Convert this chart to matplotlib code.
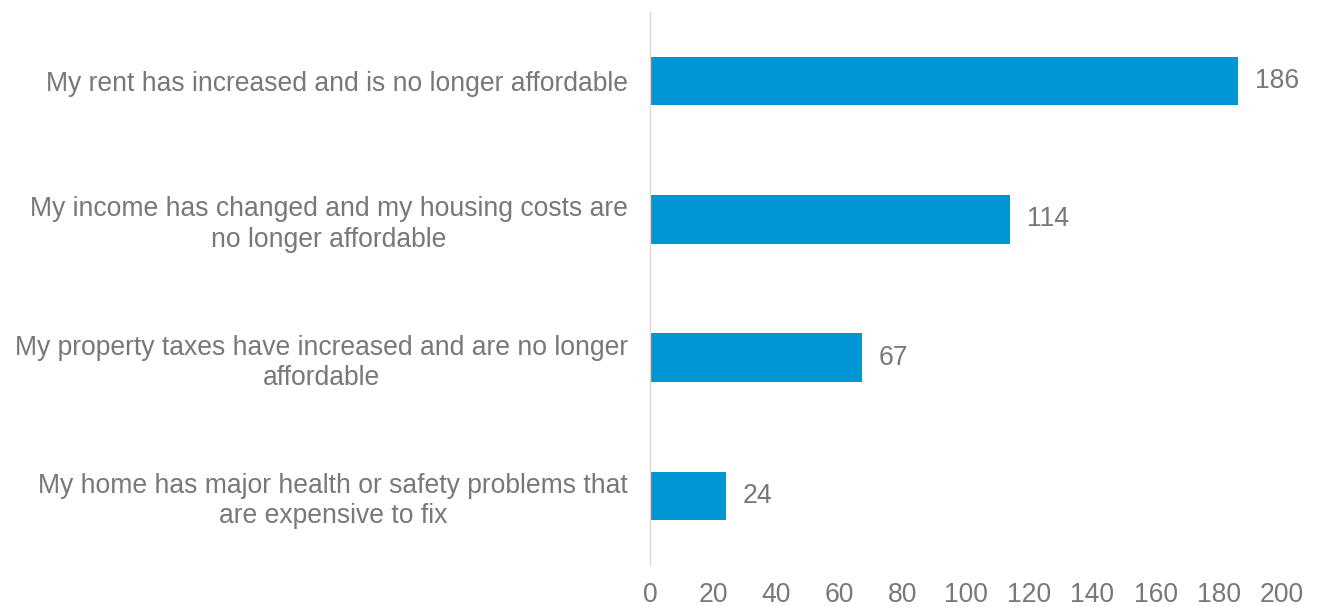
import matplotlib
matplotlib.use("Agg")
import matplotlib.pyplot as plt

categories = [
    "My rent has increased and is no longer affordable",
    "My income has changed and my housing costs are\nno longer affordable",
    "My property taxes have increased and are no longer\naffordable",
    "My home has major health or safety problems that\nare expensive to fix",
]
values = [186, 114, 67, 24]
xticks = [0, 20, 40, 60, 80, 100, 120, 140, 160, 180, 200]

plt.rcParams['font.family'] = ['Liberation Sans', 'DejaVu Sans']
text_color = "#787878"
bar_color = "#0096D6"
fs = 19.1

fig = plt.figure(figsize=(13.24, 6.06), dpi=100)
ax = fig.add_axes([650/1324, 1-565/606, 632/1324, 553/606])

ypos = list(range(len(categories)))
ax.barh(ypos, values, height=0.35, color=bar_color)
ax.set_ylim(len(categories)-0.5, -0.5)
ax.set_xlim(0, 200)
ax.set_xticks(xticks)
ax.set_xticklabels([str(t) for t in xticks], fontsize=fs, color=text_color)
ax.set_yticks(ypos)
ax.set_yticklabels(categories, fontsize=fs, color=text_color, multialignment='center', linespacing=1.22)
ax.tick_params(axis='both', length=0)
ax.tick_params(axis='y', pad=16)
ax.tick_params(axis='x', pad=12)
for s in ['top', 'right', 'bottom']:
    ax.spines[s].set_visible(False)
ax.spines['left'].set_color("#D9D9D9")
ax.spines['left'].set_linewidth(1)

for y, v in zip(ypos, values):
    ax.annotate(str(v), (v, y), xytext=(17, 0), textcoords='offset pixels',
                va='center', ha='left', fontsize=fs, color=text_color)

fig.savefig("out.png", dpi=100)
